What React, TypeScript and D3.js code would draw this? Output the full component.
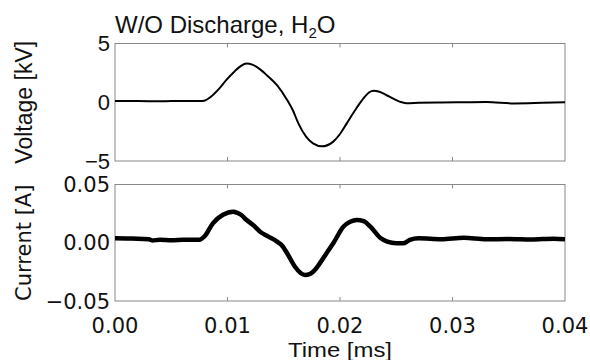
import React from 'react';
import * as d3 from 'd3';

// axis ticks
const timeTicks = [0, 0.01, 0.02, 0.03, 0.04];
const timeTickLabels = ['0.00', '0.01', '0.02', '0.03', '0.04'];
const voltageTicks = [-5, 0, 5];
const voltageTickLabels = ['\u22125', '0', '5'];
const currentTicks = [-0.05, 0, 0.05];
const currentTickLabels = ['\u22120.05', '0.00', '0.05'];

// voltage trace (ms, kV)
const voltageTime = [0, 0.002, 0.004, 0.005, 0.006, 0.007, 0.0076, 0.008, 0.0085, 0.0093, 0.0099, 0.0106, 0.0112, 0.0117, 0.0122, 0.0129, 0.0135, 0.0144, 0.0153, 0.0158, 0.0163, 0.017, 0.0176, 0.0184, 0.0194, 0.02, 0.0206, 0.0215, 0.0221, 0.0226, 0.023, 0.0235, 0.0244, 0.0253, 0.0259, 0.027, 0.029, 0.031, 0.033, 0.0355, 0.038, 0.04];
const voltageKV = [0.1, 0.1, 0.08, 0.1, 0.1, 0.1, 0.1, 0.15, 0.45, 1.2, 1.9, 2.6, 3.1, 3.3, 3.2, 2.8, 2.3, 1.45, 0.2, -0.66, -1.8, -2.95, -3.5, -3.75, -3.35, -2.7, -1.8, -0.45, 0.35, 0.85, 0.98, 0.9, 0.47, 0.05, -0.08, -0.05, -0.02, 0.0, 0.02, -0.1, -0.05, 0];

// current trace (ms, A)
const currentTime = [0, 0.001, 0.002, 0.003, 0.0033, 0.004, 0.005, 0.006, 0.007, 0.0075, 0.008, 0.0087, 0.0096, 0.0105, 0.0112, 0.0117, 0.0123, 0.0129, 0.0136, 0.0144, 0.0148, 0.0153, 0.016, 0.0165, 0.0169, 0.0173, 0.0178, 0.0182, 0.0188, 0.0194, 0.0203, 0.0209, 0.0215, 0.0221, 0.0227, 0.0236, 0.0242, 0.025, 0.0256, 0.0262, 0.027, 0.029, 0.031, 0.033, 0.035, 0.037, 0.039, 0.04];
const currentA = [0.0038, 0.0036, 0.0035, 0.003, 0.002, 0.0025, 0.0022, 0.0025, 0.0026, 0.0026, 0.006, 0.0167, 0.024, 0.0267, 0.024, 0.0195, 0.015, 0.0095, 0.0055, 0.001, -0.002, -0.009, -0.0206, -0.026, -0.0277, -0.027, -0.023, -0.0177, -0.009, -0.0005, 0.0138, 0.018, 0.0195, 0.0185, 0.0138, 0.004, 0.0009, -0.0005, -0.0005, 0.0024, 0.0038, 0.003, 0.0042, 0.003, 0.0032, 0.0028, 0.0035, 0.003];

const W = 590;
const H = 360;
const left = 115;
const right = 565;
const topPanel = { y0: 43.5, y1: 161 };
const botPanel = { y0: 184.5, y1: 301 };
const axisColor = '#888';
const arial = '"Liberation Sans", Arial, sans-serif';
const dejavu = '"DejaVu Sans", sans-serif';

const x = d3.scaleLinear().domain([0, 0.04]).range([left, right]);
const yV = d3.scaleLinear().domain([-5, 5]).range([topPanel.y1, topPanel.y0]);
const yI = d3.scaleLinear().domain([-0.05, 0.05]).range([botPanel.y1, botPanel.y0]);

const lineV = d3.line<number>()
  .x((_, i) => x(voltageTime[i]))
  .y(d => yV(d))
  .curve(d3.curveMonotoneX);
const lineI = d3.line<number>()
  .x((_, i) => x(currentTime[i]))
  .y(d => yI(d))
  .curve(d3.curveMonotoneX);

const Frame = ({ y0, y1 }: { y0: number; y1: number }) => (
  <g>
    <rect x={left} y={y0} width={right - left} height={y1 - y0} fill="none" stroke={axisColor} strokeWidth={1} />
    {timeTicks.slice(1, -1).map(t => (
      <g key={t}>
        <line x1={x(t)} x2={x(t)} y1={y0} y2={y0 + 4} stroke={axisColor} />
        <line x1={x(t)} x2={x(t)} y1={y1} y2={y1 - 4} stroke={axisColor} />
      </g>
    ))}
  </g>
);

export default function App() {
  return (
    <svg width={W} height={H} style={{ position: 'absolute', left: 0, top: 0, background: '#fff' }}>
      <rect width={W} height={H} fill="#fff" />

      {/* title */}
      <text x={left} y={33} fontFamily={arial} fontSize={24} fill="#111">
        W/O Discharge, H<tspan fontSize={15} dy={5}>2</tspan><tspan dy={-5}>O</tspan>
      </text>

      {/* voltage panel */}
      <Frame y0={topPanel.y0} y1={topPanel.y1} />
      <clipPath id="clipV"><rect x={left} y={topPanel.y0} width={right - left} height={topPanel.y1 - topPanel.y0} /></clipPath>
      <path d={lineV(voltageKV) ?? ''} fill="none" stroke="#000" strokeWidth={2} clipPath="url(#clipV)" />
      {voltageTicks.map((v, i) => (
        <text key={v} x={110} y={yV(v)} dy="0.36em" textAnchor="end" fontFamily={arial} fontSize={22} fill="#111">
          {voltageTickLabels[i]}
        </text>
      ))}
      <text transform={`translate(32,${(topPanel.y0 + topPanel.y1) / 2}) rotate(-90)`} textAnchor="middle" fontFamily={arial} fontSize={23} fill="#111">
        Voltage [kV]
      </text>

      {/* current panel */}
      <Frame y0={botPanel.y0} y1={botPanel.y1} />
      <clipPath id="clipI"><rect x={left} y={botPanel.y0} width={right - left} height={botPanel.y1 - botPanel.y0} /></clipPath>
      <path d={lineI(currentA) ?? ''} fill="none" stroke="#000" strokeWidth={4.5} strokeLinejoin="round" clipPath="url(#clipI)" />
      {currentTicks.map((v, i) => (
        <text key={v} x={110} y={yI(v)} dy="0.36em" textAnchor="end" fontFamily={dejavu} fontSize={21} fill="#111">
          {currentTickLabels[i]}
        </text>
      ))}
      <text transform={`translate(31,${(botPanel.y0 + botPanel.y1) / 2}) rotate(-90)`} textAnchor="middle" fontFamily={dejavu} fontSize={21} fill="#111">
        Current [A]
      </text>

      {/* time axis */}
      {timeTicks.map((t, i) => (
        <text key={t} x={x(t)} y={333} textAnchor="middle" fontFamily={dejavu} fontSize={21} fill="#111">
          {timeTickLabels[i]}
        </text>
      ))}
      <text x={340} y={357} textAnchor="middle" fontFamily={arial} fontSize={20} textLength={104} lengthAdjust="spacingAndGlyphs" fill="#111">
        Time [ms]
      </text>
    </svg>
  );
}
